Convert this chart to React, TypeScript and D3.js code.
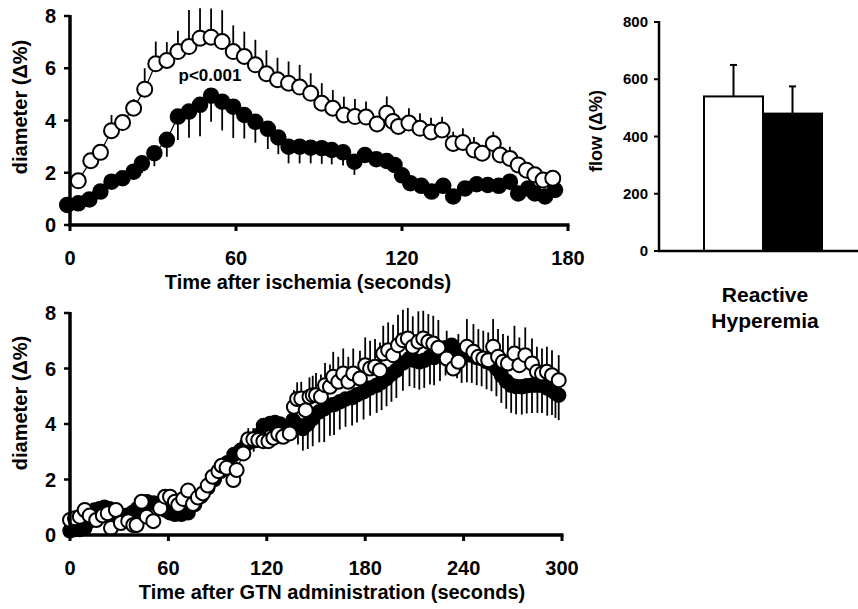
import React from 'react';
import * as d3 from 'd3';

const FONT = '"Liberation Sans", Arial, Helvetica, sans-serif';

type Pt = [number, number, number]; // [time (s), mean (Δ%), SE]

// Reactive hyperemia (ischemia) — open circles, error bars upward
const ischemiaOpen: Pt[] = [
  [3, 1.69, 0.1], [7.5, 2.46, 0.15], [11, 2.78, 0.3], [15, 3.61, 0.6], [19, 3.92, 0.3],
  [23, 4.47, 0.35], [27, 5.2, 0.8], [31, 6.17, 0.85], [35, 6.3, 0.7], [39, 6.64, 0.8],
  [43, 6.83, 1.4], [47, 7.15, 1.15], [51, 7.19, 1.1], [55, 7.02, 1.2], [59, 6.64, 1.0],
  [63, 6.45, 0.95], [67, 6.13, 0.96], [71, 5.79, 0.9], [75, 5.56, 0.84], [79, 5.43, 0.83],
  [83, 5.28, 0.85], [87, 5.04, 0.77], [91, 4.66, 0.77], [95, 4.47, 0.7], [99, 4.21, 0.7],
  [103, 4.15, 0.67], [107, 4.13, 0.6], [111, 3.87, 0.3], [114.5, 4.28, 0.64], [116.7, 3.96, 0.3],
  [118.7, 3.77, 0.3], [122.5, 3.9, 0.57], [126.5, 3.7, 0.58], [130.5, 3.56, 0.55], [134.5, 3.64, 0.5],
  [138.5, 3.12, 0.45], [142, 3.16, 0.54], [146, 2.87, 0.5], [149, 2.75, 0.3], [153, 3.12, 0.45],
  [155.5, 2.68, 0.3], [159, 2.55, 0.45], [162, 2.3, 0.3], [165, 2.1, 0.25], [168, 1.92, 0.2],
  [171, 1.72, 0.2], [174.5, 1.79, 0.2],
];

// Reactive hyperemia (ischemia) — filled circles, error bars downward
const ischemiaFilled: Pt[] = [
  [-1, 0.77, 0.1], [3, 0.83, 0.1], [7, 0.98, 0.1], [11, 1.28, 0.1], [15, 1.66, 0.15],
  [19, 1.79, 0.2], [23, 2.04, 0.3], [26, 2.36, 0.37], [30.5, 2.75, 0.5], [35, 3.26, 0.65],
  [39, 4.15, 0.9], [43, 4.34, 1.0], [47, 4.6, 1.2], [51, 4.95, 1.0], [55, 4.72, 1.1],
  [59, 4.53, 1.2], [63, 4.21, 0.9], [67, 3.95, 0.8], [71.5, 3.68, 0.77], [75.3, 3.35, 0.64],
  [79, 3.0, 0.64], [83, 3.0, 0.64], [87, 2.96, 0.6], [91, 2.94, 0.6], [94.6, 2.87, 0.55],
  [98.7, 2.78, 0.5], [102.8, 2.42, 0.5], [106.6, 2.68, 0.3], [110.7, 2.52, 0.3], [114.5, 2.45, 0.3],
  [117.3, 2.3, 0.3], [120, 1.9, 0.25], [123, 1.6, 0.2], [127, 1.5, 0.2], [130.7, 1.28, 0.2],
  [134.9, 1.5, 0.2], [138.5, 1.09, 0.2], [142.8, 1.4, 0.2], [147, 1.56, 0.2], [151, 1.53, 0.2],
  [155, 1.5, 0.2], [159, 1.66, 0.2], [162, 1.21, 0.2], [165.6, 1.4, 0.2], [168, 1.21, 0.2],
  [171.7, 1.09, 0.2], [175.3, 1.34, 0.2],
];

// GTN administration — open circles
const gtnOpen: Pt[] = [
  [0, 0.54, 0.1], [3, 0.6, 0.1], [6, 0.66, 0.1], [9, 0.9, 0.1], [12, 0.7, 0.1],
  [16, 0.54, 0.1], [20, 0.7, 0.1], [23, 0.78, 0.1], [25, 0.25, 0.1], [28, 0.9, 0.1],
  [31, 0.43, 0.1], [35.5, 0.5, 0.1], [38.6, 0.36, 0.1], [40.6, 0.36, 0.1], [43.7, 1.2, 0.1],
  [46.8, 0.66, 0.1], [50.8, 0.5, 0.1], [55, 0.96, 0.1], [58, 1.38, 0.15], [61, 1.38, 0.15],
  [64, 1.2, 0.15], [66, 1.08, 0.15], [69, 1.3, 0.15], [72, 1.6, 0.15], [75, 1.12, 0.15],
  [78, 1.35, 0.15], [81, 1.5, 0.15], [84, 1.78, 0.2], [87, 2.1, 0.2], [90.5, 2.3, 0.2],
  [92.5, 2.5, 0.2], [95.5, 2.42, 0.2], [99.6, 1.98, 0.2], [101.6, 2.34, 0.2], [105.7, 2.94, 0.3],
  [108.7, 3.45, 0.4], [111.8, 3.45, 0.4], [114.8, 3.42, 0.35], [117.9, 3.38, 0.35], [121, 3.38, 0.3],
  [124, 3.5, 0.3], [127, 3.64, 0.3], [130, 3.54, 0.3], [134, 3.66, 0.35], [136.5, 4.62, 0.6],
  [138.5, 4.9, 0.6], [141, 4.92, 0.6], [143.7, 4.5, 0.6], [146, 4.98, 0.7], [148, 5.04, 0.7],
  [150, 5.04, 0.8], [153, 4.98, 0.8], [155.5, 5.4, 0.8], [158.5, 5.34, 0.8], [160.5, 5.7, 0.9],
  [163.6, 5.52, 0.9], [166.6, 5.82, 0.9], [169.7, 5.52, 0.9], [172.7, 5.82, 0.9], [176.8, 5.64, 1.0],
  [180, 6.12, 1.0], [183, 6.0, 1.0], [186, 6.06, 1.0], [189, 5.94, 1.0], [191, 6.54, 1.0],
  [194, 6.66, 1.0], [197, 6.48, 1.1], [200, 6.84, 1.1], [203, 7.02, 1.1], [206, 7.08, 1.1],
  [209, 6.78, 1.1], [212.4, 6.96, 1.1], [215.4, 7.08, 1.0], [218.5, 6.96, 1.0], [221.5, 6.9, 1.0],
  [224.6, 6.75, 1.0], [229.7, 6.36, 1.0], [233.7, 6.0, 1.0], [236.8, 6.24, 1.0], [242, 6.78, 1.0],
  [246, 6.6, 1.0], [249, 6.42, 1.0], [252, 6.36, 1.0], [255, 6.3, 1.0], [258, 6.78, 1.0],
  [261, 6.42, 1.0], [264, 6.24, 1.0], [267, 6.18, 1.0], [271, 6.54, 1.0], [274, 6.12, 1.0],
  [277.6, 6.48, 1.0], [281.7, 6.18, 0.9], [284.7, 5.88, 0.9], [287.8, 5.82, 0.9], [290.8, 5.88, 0.9],
  [293.9, 5.76, 0.9], [298, 5.58, 0.9],
];

// GTN administration — filled circles
const gtnFilled: Pt[] = [
  [0, 0.15, 0.1], [3, 0.2, 0.1], [6, 0.2, 0.1], [9, 0.25, 0.1], [12, 0.5, 0.1],
  [15, 0.9, 0.1], [18, 0.95, 0.1], [21, 1.0, 0.1], [24, 0.95, 0.1], [27, 0.8, 0.1],
  [30, 0.6, 0.1], [34, 0.7, 0.1], [38, 0.8, 0.1], [41, 0.95, 0.1], [44, 1.1, 0.1],
  [47, 1.2, 0.1], [51, 1.15, 0.1], [55, 1.0, 0.1], [58, 0.9, 0.1], [61, 0.8, 0.1],
  [64, 0.75, 0.1], [68, 0.75, 0.1], [72, 0.8, 0.1], [76, 1.1, 0.15], [80, 1.4, 0.15],
  [84, 1.7, 0.15], [88, 2.0, 0.2], [92, 2.3, 0.2], [96, 2.6, 0.2], [100, 2.9, 0.25],
  [104, 3.05, 0.3], [108, 3.3, 0.4], [112, 3.4, 0.4], [115, 3.6, 0.4], [118, 3.95, 0.4],
  [122, 4.02, 0.4], [125, 4.05, 0.4], [128, 4.0, 0.4], [132, 3.9, 0.5], [136, 4.14, 0.6],
  [139, 3.96, 0.7], [142, 3.84, 0.8], [145, 4.0, 0.9], [148, 4.2, 1.0], [152, 4.44, 1.1],
  [155, 4.55, 1.2], [158.5, 4.68, 1.1], [161, 4.7, 1.1], [164.5, 4.8, 1.0], [168, 4.9, 1.0],
  [172, 4.95, 1.0], [175, 5.05, 1.0], [179, 5.16, 1.0], [183, 5.3, 1.0], [187, 5.4, 1.0],
  [190, 5.5, 1.0], [193, 5.64, 1.0], [196, 5.8, 1.0], [199, 5.94, 1.0], [203, 6.2, 1.0],
  [207, 6.36, 1.0], [210, 6.3, 1.0], [213, 6.24, 1.0], [216, 6.3, 1.0], [219.5, 6.42, 1.0],
  [222, 6.4, 1.0], [225.6, 6.55, 1.0], [229, 6.75, 1.0], [232.7, 6.84, 1.0], [236, 6.65, 1.0],
  [238.8, 6.48, 1.0], [242, 6.5, 1.0], [245, 6.48, 1.0], [248, 6.4, 1.0], [251, 6.36, 1.0],
  [254, 6.25, 1.0], [257, 6.18, 1.0], [260, 6.0, 1.0], [263, 5.76, 1.0], [266, 5.55, 1.0],
  [269, 5.4, 1.0], [272, 5.35, 1.0], [275.5, 5.34, 1.0], [278.5, 5.38, 1.0], [281.7, 5.4, 1.0],
  [285, 5.4, 1.0], [287.8, 5.4, 1.0], [291, 5.3, 1.0], [293.9, 5.22, 0.9], [296, 5.12, 0.9],
  [298, 5.04, 0.9],
];

const ischemiaTicksX = [0, 60, 120, 180];
const gtnTicksX = [0, 60, 120, 180, 240, 300];
const diameterTicksY = [0, 2, 4, 6, 8];
const flowTicksY = [0, 200, 400, 600, 800];
const flowGroups = ['control', 'treated'];
const flowMeans = [540, 480];
const flowErrors = [110, 95];
const flowFills = ['#ffffff', '#000000'];

type PanelProps = {
  open: Pt[];
  filled: Pt[];
  left: number;
  right: number;
  top: number;
  bottom: number;
  xMax: number;
  xTicks: number[];
  title: string;
  titleX: number;
  labelY: number;
  r: number;
};

function Panel({ open, filled, left, right, top, bottom, xMax, xTicks, title, titleX, labelY, r }: PanelProps) {
  const x = d3.scaleLinear().domain([0, xMax]).range([left, right]);
  const y = d3.scaleLinear().domain([0, 8]).range([bottom, top]);
  const line = d3.line<Pt>().x((d) => x(d[0])).y((d) => y(d[1]));
  return (
    <g>
      {/* filled series */}
      {filled.map((d, i) => (
        <line key={'fe' + i} x1={x(d[0])} x2={x(d[0])} y1={y(d[1])} y2={y(d[1] - d[2])} stroke="#000" strokeWidth={1.8} />
      ))}
      <path d={line(filled) || ''} fill="none" stroke="#000" strokeWidth={1.2} />
      {filled.map((d, i) => (
        <circle key={'fc' + i} cx={x(d[0])} cy={y(d[1])} r={r} fill="#000" stroke="#000" strokeWidth={1.5} />
      ))}
      {/* open series */}
      {open.map((d, i) => (
        <line key={'oe' + i} x1={x(d[0])} x2={x(d[0])} y1={y(d[1])} y2={y(d[1] + d[2])} stroke="#000" strokeWidth={1.8} />
      ))}
      <path d={line(open) || ''} fill="none" stroke="#000" strokeWidth={1.2} />
      {open.map((d, i) => (
        <circle key={'oc' + i} cx={x(d[0])} cy={y(d[1])} r={r} fill="#fff" stroke="#000" strokeWidth={2} />
      ))}
      {/* axes */}
      <line x1={x(0)} x2={x(0)} y1={y(8) - 1} y2={y(0) + 1.5} stroke="#000" strokeWidth={3.5} />
      <line x1={x(0) - 1.5} x2={x(xMax) + 1.5} y1={y(0)} y2={y(0)} stroke="#000" strokeWidth={3.5} />
      {diameterTicksY.map((t) => (
        <g key={'yt' + t}>
          <line x1={x(0) - 6} x2={x(0)} y1={y(t)} y2={y(t)} stroke="#000" strokeWidth={2.5} />
          <text x={x(0) - 14} y={y(t) + 7} textAnchor="end" fontSize={20} fontWeight="bold" fontFamily={FONT}>{t}</text>
        </g>
      ))}
      {xTicks.map((t) => (
        <g key={'xt' + t}>
          <line x1={x(t)} x2={x(t)} y1={y(0)} y2={y(0) + 6} stroke="#000" strokeWidth={3} />
          <text x={x(t)} y={y(0) + 40} textAnchor="middle" fontSize={20} fontWeight="bold" fontFamily={FONT}>{t}</text>
        </g>
      ))}
      <text x={titleX} y={y(0) + 64} textAnchor="middle" fontSize={20} fontWeight="bold" fontFamily={FONT}>{title}</text>
      <text transform={`translate(27, ${labelY}) rotate(-90)`} textAnchor="middle" fontSize={20} fontWeight="bold" fontFamily={FONT}>diameter (Δ%)</text>
    </g>
  );
}

function FlowBars() {
  const left = 659;
  const right = 858;
  const y = d3.scaleLinear().domain([0, 800]).range([251, 22]);
  const x = d3.scaleBand().domain(flowGroups).range([704, 822]).padding(0);
  return (
    <g>
      {flowGroups.map((g, i) => (
        <g key={g}>
          <line x1={(x(g) || 0) + x.bandwidth() / 2} x2={(x(g) || 0) + x.bandwidth() / 2} y1={y(flowMeans[i])} y2={y(flowMeans[i] + flowErrors[i])} stroke="#000" strokeWidth={2} />
          <line x1={(x(g) || 0) + x.bandwidth() / 2 - 3.5} x2={(x(g) || 0) + x.bandwidth() / 2 + 3.5} y1={y(flowMeans[i] + flowErrors[i])} y2={y(flowMeans[i] + flowErrors[i])} stroke="#000" strokeWidth={2} />
          <rect x={x(g)} y={y(flowMeans[i])} width={x.bandwidth()} height={y(0) - y(flowMeans[i])} fill={flowFills[i]} stroke="#000" strokeWidth={2} />
        </g>
      ))}
      <line x1={left} x2={left} y1={y(800) - 1} y2={y(0) + 1} stroke="#000" strokeWidth={2.5} />
      <line x1={left - 1} x2={right} y1={y(0)} y2={y(0)} stroke="#000" strokeWidth={2.5} />
      {flowTicksY.map((t) => (
        <g key={'ft' + t}>
          <line x1={left - 5} x2={left} y1={y(t)} y2={y(t)} stroke="#000" strokeWidth={2} />
          <text x={left - 11} y={y(t) + 5} textAnchor="end" fontSize={15} fontWeight="bold" fontFamily={FONT}>{t}</text>
        </g>
      ))}
      <text transform={`translate(602, 131) rotate(-90)`} textAnchor="middle" fontSize={18} fontWeight="bold" fontFamily={FONT}>flow (Δ%)</text>
      <text x={765} y={302} textAnchor="middle" fontSize={21} fontWeight="bold" fontFamily={FONT}>Reactive</text>
      <text x={765} y={328} textAnchor="middle" fontSize={21} fontWeight="bold" fontFamily={FONT}>Hyperemia</text>
    </g>
  );
}

export default function App() {
  return (
    <svg width={858} height={609} viewBox="0 0 858 609" style={{ position: 'absolute', left: 0, top: 0, background: '#fff' }}>
      <rect x={0} y={0} width={858} height={609} fill="#fff" />
      <Panel open={ischemiaOpen} filled={ischemiaFilled} left={70} right={568} top={16} bottom={225} xMax={180}
        xTicks={ischemiaTicksX} title="Time after ischemia (seconds)" titleX={308} labelY={107} r={7.5} />
      <text x={210} y={81} textAnchor="middle" fontSize={17} fontWeight="bold" fontFamily={FONT}>p&lt;0.001</text>
      <Panel open={gtnOpen} filled={gtnFilled} left={70} right={562} top={313} bottom={535} xMax={300}
        xTicks={gtnTicksX} title="Time after GTN administration (seconds)" titleX={332} labelY={403} r={7} />
      <FlowBars />
    </svg>
  );
}
